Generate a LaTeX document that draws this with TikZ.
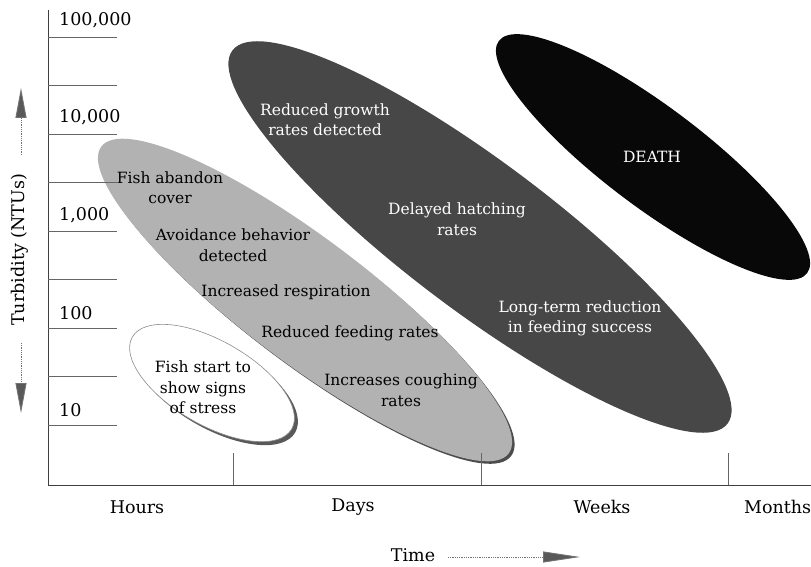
\documentclass[tikz,border=0pt]{standalone}
\usepackage{fontspec}
\setmainfont{DejaVu Serif}
\usetikzlibrary{arrows.meta}
\begin{document}
\begin{tikzpicture}[x=1pt,y=-1pt,
  axislbl/.style={font=\fontsize{17.5}{21}\selectfont, inner sep=0pt},
  ylbl/.style={axislbl, anchor=west},
  blob/.style={font=\fontsize{15.5}{20.5}\selectfont, align=center, inner sep=0pt},
  blobw/.style={blob, text=white},
  axisline/.style={draw=black!75, line width=0.8pt},
  tickline/.style={draw=black!60, line width=0.7pt},
  dotline/.style={draw=black!55, line width=0.8pt, densely dotted},
  tiparrow/.style={-{Triangle[length=#1, width=11pt, fill=black!65]}},
]
\useasboundingbox (0,0) rectangle (811,567);

% ---- regions ----
% dark region
\fill[black!72, rotate around={-37:(480,237)}] (480,237) ellipse [x radius=310pt, y radius=74pt];
% death region
\fill[black!97, rotate around={-37:(653,157)}] (653,157) ellipse [x radius=193pt, y radius=50pt];
% light region with shadow
\fill[black!70, rotate around={-37:(307.5,302.5)}] (307.5,302.5) ellipse [x radius=255pt, y radius=62pt];
\fill[black!30, rotate around={-37:(305,300)}] (305,300) ellipse [x radius=255pt, y radius=62pt];
% white region with shadow
\fill[black!65, rotate around={-30:(215.5,386.5)}] (215.5,386.5) ellipse [x radius=92pt, y radius=42pt];
\filldraw[fill=white, draw=black!45, line width=0.6pt, rotate around={-30:(212,383)}] (212,383) ellipse [x radius=92pt, y radius=42pt];

% ---- axes ----
\coordinate (otop) at (48,10);
\coordinate (orig) at (48,485);
\coordinate (xend) at (811,485);
\draw[axisline] (otop) -- (orig) -- (xend);
\foreach \k in {0,...,8}{
  \draw[tickline] (48,37+48.5*\k) -- (117,37+48.5*\k);
}
\foreach \x in {233,481,728}{
  \draw[tickline] (\x,453) -- (\x,485);
}

% y labels
\node[ylbl] (l5) at (59,20) {100,000};
\node[ylbl] (l4) at (59,117) {10,000};
\node[ylbl] (l3) at (59,215) {1,000};
\node[ylbl] (l2) at (59,313) {100};
\node[ylbl] (l1) at (59,410) {10};

% x labels
\node[axislbl] (hours) at (137,507) {Hours};
\node[axislbl] (days) at (353,507) {Days};
\node[axislbl] (weeks) at (602,507) {Weeks};
\node[axislbl, anchor=west] (months) at (744,507) {Months};

% axis titles
\node[axislbl, rotate=90] (turb) at (20,250) {Turbidity (NTUs)};
\node[axislbl] (time) at (413,555) {Time};

\coordinate (ua) at (21,155);
\coordinate (ub) at (21,88);
\coordinate (da) at (21,343);
\coordinate (db) at (21,413);
\coordinate (ta) at (448,557);
\coordinate (tb) at (580,557);
\draw[dotline, tiparrow=30pt] (ua) -- (ub);
\draw[dotline, tiparrow=30pt] (da) -- (db);
\draw[dotline, tiparrow=37pt] (ta) -- (tb);

% ---- texts ----
\node[blob] (t1) at (170,187.5) {Fish abandon\\cover};
\node[blob] (t2) at (233,245) {Avoidance behavior\\detected};
\node[blob] (t3) at (286,292) {Increased respiration};
\node[blob] (t4) at (350,333) {Reduced feeding rates};
\node[blob] (t5) at (401,390) {Increases coughing\\rates};
\node[blob] (t6) at (203,387.5) {Fish start to\\show signs\\of stress};
\node[blobw] (t7) at (325,119.5) {Reduced growth\\rates detected};
\node[blobw] (t8) at (457,219) {Delayed hatching\\rates};
\node[blobw] (t9) at (580,318.5) {Long-term reduction\\in feeding success};
\node[blobw] (t10) at (652,157) {DEATH};
\end{tikzpicture}
\end{document}
